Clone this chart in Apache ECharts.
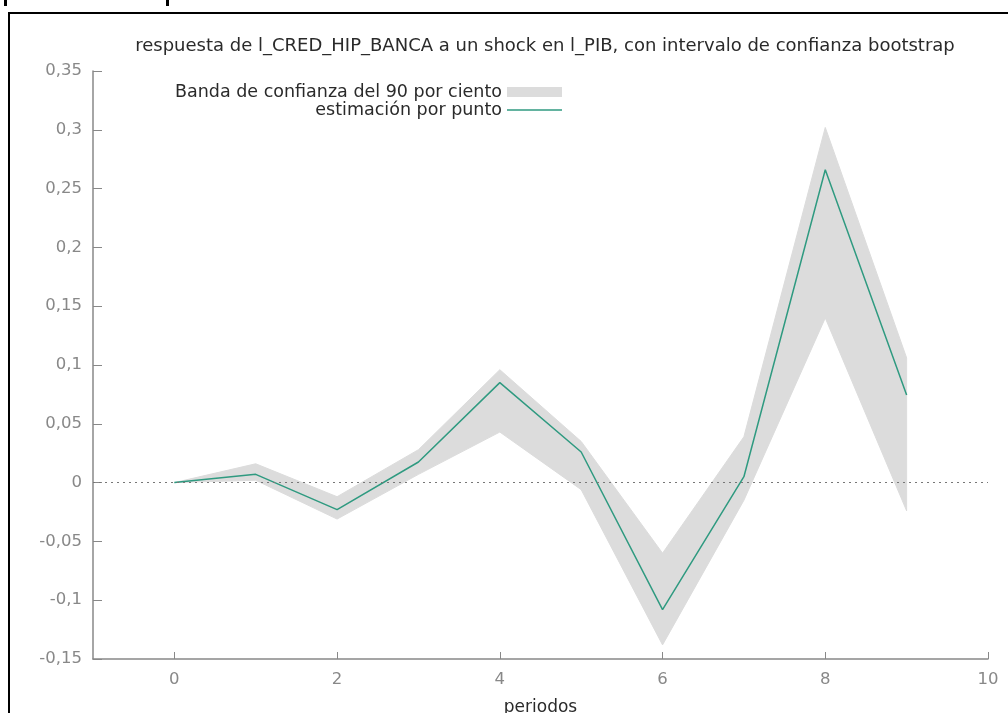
<!DOCTYPE html>
<html>
<head>
<meta charset="utf-8">
<script src="https://cdn.jsdelivr.net/npm/echarts@6/dist/echarts.min.js"></script>
<style>html,body{margin:0;padding:0;background:#fff}#c{width:1008px;height:713px}</style>
</head>
<body>
<div id="c"></div>
<script>
var periods = [0, 1, 2, 3, 4, 5, 6, 7, 8, 9];
var estimate = [0, 0.007, -0.023, 0.0175, 0.085, 0.026, -0.108, 0.005, 0.266, 0.0745];
var bandUpper = [0, 0.016, -0.012, 0.028, 0.096, 0.035, -0.06, 0.039, 0.302, 0.106];
var bandLower = [0, 0.002, -0.031, 0.007, 0.043, -0.006, -0.138, -0.015, 0.14, -0.024];
var xTicks = [0, 2, 4, 6, 8, 10];
var titleText = 'respuesta de l_CRED_HIP_BANCA a un shock en l_PIB, con intervalo de confianza bootstrap';
var bandName = 'Banda de confianza del 90 por ciento';
var lineName = 'estimación por punto';
var xName = 'periodos';

var chart = echarts.init(document.getElementById('c'), null, {renderer: 'canvas'});
var FONT = 'DejaVu Sans';
var axisGray = '#888888';
var bandColor = '#dcdcdc';
var lineColor = '#2f9a80';

var bandData = periods.map(function (x, i) { return [x, bandLower[i], bandUpper[i]]; });
var lineData = periods.map(function (x, i) { return [x, estimate[i]]; });

function renderBand(params, api) {
  if (params.dataIndex !== 0) return null;
  var top = [], bottom = [];
  for (var i = 0; i < bandData.length; i++) {
    top.push(api.coord([bandData[i][0], bandData[i][2]]));
    bottom.unshift(api.coord([bandData[i][0], bandData[i][1]]));
  }
  return {
    type: 'polygon',
    shape: {points: top.concat(bottom)},
    style: {fill: bandColor, stroke: bandColor, lineWidth: 1},
    silent: true
  };
}

var option = {
  backgroundColor: '#ffffff',
  animation: false,
  textStyle: {fontFamily: FONT},
  title: {
    text: titleText,
    left: 540, textAlign: 'center', top: 32,
    textStyle: {fontFamily: FONT, fontSize: 18, fontWeight: 'normal', color: '#2a2a2a'}
  },
  legend: {
    orient: 'vertical', align: 'right', right: 441, top: 78,
    itemWidth: 55, itemHeight: 10, itemGap: 0,
    textStyle: {fontFamily: FONT, fontSize: 17.5, color: '#2a2a2a'},
    data: [
      {name: bandName, icon: 'rect', itemStyle: {color: bandColor}},
      {name: lineName, icon: 'path://M0,0H55V1.5H0Z', itemStyle: {color: lineColor}}
    ]
  },
  grid: {left: 93, right: 20, top: 71, bottom: 54, outerBoundsMode: 'none', containLabel: false},
  xAxis: {
    type: 'value', min: -1, max: 10, interval: 1,
    name: xName, nameLocation: 'middle', nameGap: 40,
    nameTextStyle: {fontFamily: FONT, fontSize: 17, color: '#2a2a2a'},
    axisLine: {onZero: false, lineStyle: {color: axisGray, width: 1.5}},
    axisTick: {show: true, inside: true, length: 7, lineStyle: {color: axisGray},
      customValues: xTicks},
    axisLabel: {color: axisGray, fontSize: 16.5, margin: 12, customValues: xTicks,
      fontFamily: FONT},
    splitLine: {show: false}
  },
  yAxis: {
    type: 'value', min: -0.15, max: 0.35, interval: 0.05,
    axisLine: {show: true, onZero: false, lineStyle: {color: axisGray, width: 1.5}},
    axisTick: {show: true, inside: true, length: 9, lineStyle: {color: axisGray}},
    axisLabel: {color: axisGray, fontSize: 16.5, margin: 11, fontFamily: FONT,
      formatter: function (v) { return String(Math.round(v * 100) / 100).replace('.', ','); }},
    splitLine: {show: false}
  },
  series: [
    {
      name: bandName, type: 'custom', renderItem: renderBand,
      data: bandData, encode: {x: 0, y: [1, 2]},
      itemStyle: {color: bandColor}, silent: true, z: 1
    },
    {
      name: 'zero', type: 'line', data: [], silent: true, z: 2,
      markLine: {
        silent: true, symbol: 'none', label: {show: false},
        lineStyle: {color: '#777777', type: [2, 4], width: 1},
        data: [{yAxis: 0}]
      }
    },
    {
      name: lineName, type: 'line', data: lineData,
      symbol: 'none', showSymbol: false,
      lineStyle: {color: lineColor, width: 1.5}, itemStyle: {color: lineColor}, z: 3
    }
  ],
  graphic: [
    {type: 'rect', shape: {x: 9, y: 13, width: 1100, height: 800},
      style: {fill: 'none', stroke: '#000000', lineWidth: 2}, silent: true},
    {type: 'rect', shape: {x: 4, y: 0, width: 3, height: 6}, style: {fill: '#000000'}, silent: true},
    {type: 'rect', shape: {x: 166, y: 0, width: 3, height: 6}, style: {fill: '#000000'}, silent: true}
  ]
};
chart.setOption(option);
</script>
</body>
</html>
